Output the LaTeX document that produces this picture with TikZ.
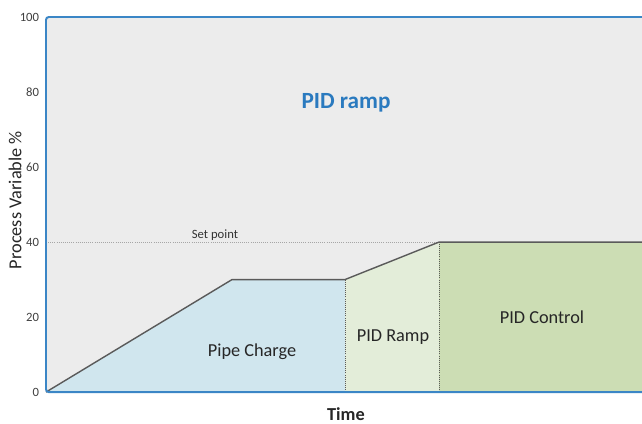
\documentclass[tikz,border=0pt]{standalone}
\usepackage{fontspec}
\setmainfont{Carlito}
\definecolor{plotbg}{HTML}{ECECEC}
\definecolor{framebl}{HTML}{3B86C6}
\definecolor{titlebl}{HTML}{2A7ABF}
\definecolor{chargefill}{HTML}{D0E6EE}
\definecolor{rampfill}{HTML}{E3EDD9}
\definecolor{ctrlfill}{HTML}{CCDDB4}
\definecolor{curvegray}{HTML}{5A5A5A}
\begin{document}
\begin{tikzpicture}[x=0.025cm,y=0.09375cm,inner sep=0pt,outer sep=0pt,
ticklabel/.style={anchor=east,font=\fontsize{9}{10}\selectfont,text=black!75},
phaselabel/.style={font=\fontsize{13}{15}\selectfont,text=black!85},
divider/.style={densely dotted,curvegray,line width=0.5pt}]

\useasboundingbox (-46,-8.267) rectangle (596,104.533);
\fill[plotbg] (0,0) rectangle (596,100);

% phase areas under the process variable
\fill[chargefill] (0,0) -- (186,30) -- (299,30) -- (299,0) -- cycle;
\fill[rampfill] (299,0) -- (299,30) -- (393,40) -- (393,0) -- cycle;
\fill[ctrlfill] (393,0) rectangle (596,40);

\draw[densely dotted,black!35,line width=0.5pt] (0,40) -- (393,40);
\draw (169,40) node[anchor=south,yshift=1pt,font=\fontsize{9}{10}\selectfont,text=black!80] (setp) {Set point};
\draw[divider] (299,0) -- (299,30);
\draw[divider] (393,0) -- (393,40);
\draw[curvegray,line width=1pt,line join=round] (0,0) -- (186,30) -- (299,30) -- (393,40) -- (596,40);

% frame
\draw[framebl,line width=1.4pt,rounded corners=2pt] (596,0) -- (0,0) -- (0,100) -- (596,100);

\foreach \v in {0,20,...,100}
  \draw (-7,\v) node[ticklabel] (tick\v) {\v};

\draw (300,77.1) node[font=\bfseries\fontsize{16.5}{18}\selectfont,text=titlebl] (title) {PID ramp};
\draw (206,10.7) node[phaselabel] (charge) {Pipe Charge};
\draw (347,14.7) node[phaselabel] (ramp) {PID Ramp};
\draw (496,20) node[phaselabel] (control) {PID Control};
\draw (300,-5.9) node[font=\bfseries\fontsize{13}{15}\selectfont,text=black!85] (xlab) {Time};
\draw (-31,51.2) node[rotate=90,font=\fontsize{13}{15}\selectfont,text=black!85] (ylab) {Process Variable \%};
\end{tikzpicture}
\end{document}
